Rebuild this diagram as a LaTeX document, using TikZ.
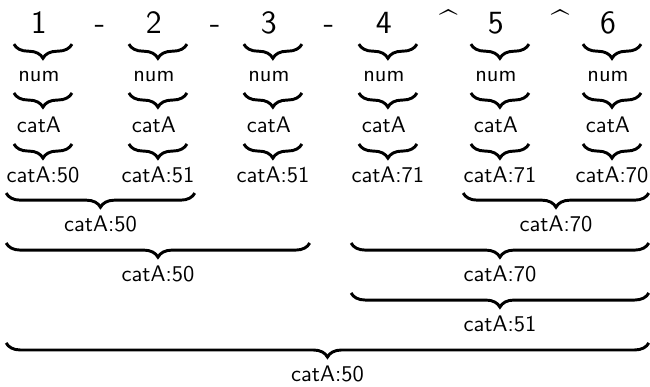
\documentclass[tikz,border=0pt]{standalone}
\usetikzlibrary{decorations.pathreplacing}

\tikzset{
    txt/.style={font=\sffamily, inner sep=0pt, anchor=base},
    big/.style={txt, font=\sffamily\Large},
    brc/.style={decorate, decoration={brace, mirror, amplitude=6.3pt, raise=4.9pt}, line width=1.3pt},
    lbl/.style={txt, midway, yshift=-22.2pt},
}

\begin{document}
\begin{tikzpicture}[font=\sffamily]
    \useasboundingbox (0,0) rectangle (10.155,-6.032);

    % input
    \node(d1) [big] at (0.608,-0.517) {1};
    \node(s1) [big] at (1.561,-0.517) {-};
    \node(d2) [big] at (2.404,-0.517) {2};
    \node(s2) [big] at (3.360,-0.517) {-};
    \node(d3) [big] at (4.200,-0.517) {3};
    \node(s3) [big] at (5.139,-0.517) {-};
    \node(d4) [big] at (5.997,-0.517) {4};
    \node(s4) [big] at (7.005,-0.517) {\textasciicircum};
    \node(d5) [big] at (7.747,-0.517) {5};
    \node(s5) [big] at (8.749,-0.517) {\textasciicircum};
    \node(d6) [big] at (9.498,-0.517) {6};

    % num
    \node(n1) [txt] at (0.608,-1.280) {num};
    \node(n2) [txt] at (2.404,-1.280) {num};
    \node(n3) [txt] at (4.200,-1.280) {num};
    \node(n4) [txt] at (5.997,-1.280) {num};
    \node(n5) [txt] at (7.747,-1.280) {num};
    \node(n6) [txt] at (9.498,-1.280) {num};

    % catA
    \node(c1) [txt] at (0.608,-2.077) {catA};
    \node(c2) [txt] at (2.404,-2.077) {catA};
    \node(c3) [txt] at (4.200,-2.077) {catA};
    \node(c4) [txt] at (5.997,-2.077) {catA};
    \node(c5) [txt] at (7.747,-2.077) {catA};
    \node(c6) [txt] at (9.498,-2.077) {catA};

    % catA with value
    \node(l1) [txt] at (0.671,-2.844) {catA:50};
    \node(l2) [txt] at (2.468,-2.844) {catA:51};
    \node(l3) [txt] at (4.264,-2.844) {catA:51};
    \node(l4) [txt] at (6.060,-2.844) {catA:71};
    \node(l5) [txt] at (7.811,-2.844) {catA:71};
    \node(l6) [txt] at (9.561,-2.844) {catA:70};

    %%%%% small braces %%%%%
    \draw[brc] ([xshift=-11.1pt]d1.base) -- ([xshift=14.7pt]d1.base);
    \draw[brc] ([xshift=-11.1pt]d2.base) -- ([xshift=14.7pt]d2.base);
    \draw[brc] ([xshift=-11.1pt]d3.base) -- ([xshift=14.7pt]d3.base);
    \draw[brc] ([xshift=-11.1pt]d4.base) -- ([xshift=14.7pt]d4.base);
    \draw[brc] ([xshift=-11.1pt]d5.base) -- ([xshift=14.7pt]d5.base);
    \draw[brc] ([xshift=-11.1pt]d6.base) -- ([xshift=14.7pt]d6.base);

    \draw[brc] ([xshift=-11.1pt]n1.base) -- ([xshift=14.7pt]n1.base);
    \draw[brc] ([xshift=-11.1pt]n2.base) -- ([xshift=14.7pt]n2.base);
    \draw[brc] ([xshift=-11.1pt]n3.base) -- ([xshift=14.7pt]n3.base);
    \draw[brc] ([xshift=-11.1pt]n4.base) -- ([xshift=14.7pt]n4.base);
    \draw[brc] ([xshift=-11.1pt]n5.base) -- ([xshift=14.7pt]n5.base);
    \draw[brc] ([xshift=-11.1pt]n6.base) -- ([xshift=14.7pt]n6.base);

    \draw[brc] ([xshift=-11.1pt]c1.base) -- ([xshift=14.7pt]c1.base);
    \draw[brc] ([xshift=-11.1pt]c2.base) -- ([xshift=14.7pt]c2.base);
    \draw[brc] ([xshift=-11.1pt]c3.base) -- ([xshift=14.7pt]c3.base);
    \draw[brc] ([xshift=-11.1pt]c4.base) -- ([xshift=14.7pt]c4.base);
    \draw[brc] ([xshift=-11.1pt]c5.base) -- ([xshift=14.7pt]c5.base);
    \draw[brc] ([xshift=-11.1pt]c6.base) -- ([xshift=14.7pt]c6.base);

    %%%%% merged braces %%%%%
    \draw[brc] (l1.base west) -- (l2.base east) node[lbl] (m1) {catA:50};
    \draw[brc] (l5.base west) -- (l6.base east) node[lbl] (m2) {catA:70};

    \draw[brc] (l1.base west |- m1.base) -- (l3.base east |- m1.base) node[lbl] (m3) {catA:50};
    \draw[brc] (l4.base west |- m2.base) -- (l6.base east |- m2.base) node[lbl] (m4) {catA:70};

    \draw[brc] (l4.base west |- m4.base) -- (l6.base east |- m4.base) node[lbl] (m5) {catA:51};

    \draw[brc] (l1.base west |- m5.base) -- (l6.base east |- m5.base) node[lbl] (m6) {catA:50};

  \end{tikzpicture}
\end{document}
